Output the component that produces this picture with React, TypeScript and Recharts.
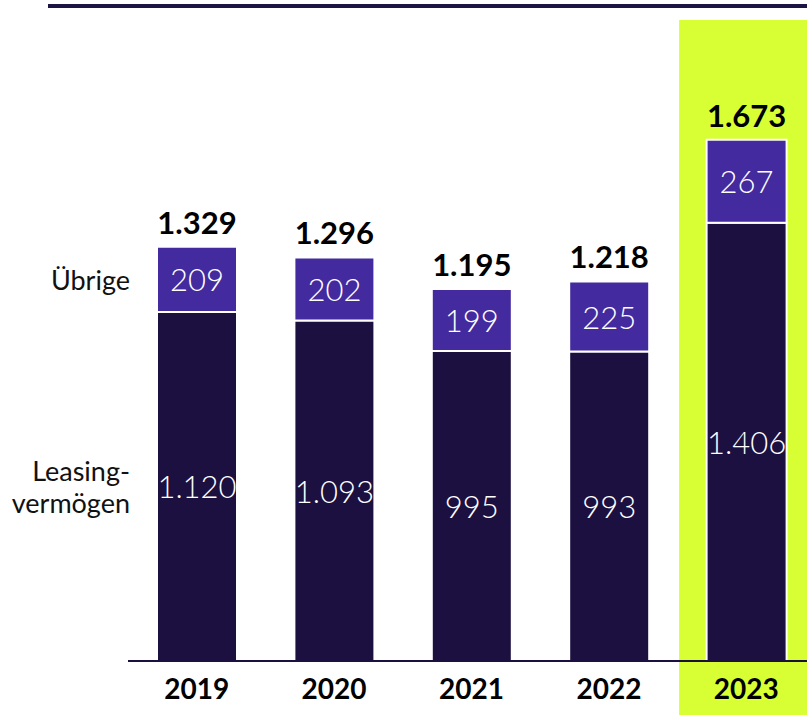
import React from 'react';
import { BarChart, Bar, XAxis, YAxis, ReferenceArea, LabelList } from 'recharts';

const years = ['2019', '2020', '2021', '2022', '2023'];
const leasing = [1120, 1093, 995, 993, 1406];
const other = [209, 202, 199, 225, 267];
const totals = [1329, 1296, 1195, 1218, 1673];

const data = years.map((year, i) => ({
  year,
  leasing: leasing[i],
  other: other[i],
  total: totals[i],
}));

const DARK = '#1b1040';
const PURPLE = '#432a9e';
const LIME = '#d8ff33';
const FONT = 'Lato, "Noto Sans", sans-serif';

const fmt = (v: number) => String(v).replace(/\B(?=(\d{3})+(?!\d))/g, '.');

const innerLabel = (sideLines: string[]) => (props: any) => {
  const { x, y, width, height, value, index } = props;
  const cx = x + width / 2;
  const cy = y + height / 2;
  return (
    <g>
      <text
        x={cx}
        y={cy}
        fill="#fff"
        fontSize={31}
        fontWeight={300}
        fontFamily={FONT}
        textAnchor="middle"
        dominantBaseline="central"
      >
        {fmt(value)}
      </text>
      {index === 0 && (
        <text
          x={x - 27}
          y={cy - ((sideLines.length - 1) * 32) / 2}
          fill="#111"
          fontSize={27}
          fontWeight={400}
          fontFamily={FONT}
          textAnchor="end"
          dominantBaseline="central"
        >
          {sideLines.map((l, k) => (
            <tspan key={k} x={x - 27} dy={k ? 32 : 0}>
              {l}
            </tspan>
          ))}
        </text>
      )}
    </g>
  );
};

const totalLabel = (props: any) => {
  const { x, y, width, index } = props;
  return (
    <text
      x={x + width / 2}
      y={y - 25}
      fill="#000"
      fontSize={31}
      fontWeight={700}
      fontFamily={FONT}
      textAnchor="middle"
      dominantBaseline="central"
    >
      {fmt(totals[index])}
    </text>
  );
};

const YearTick = ({ x, y, payload }: any) => (
  <text
    x={x}
    y={y + 27}
    fill="#000"
    fontSize={28}
    fontWeight={700}
    fontFamily={FONT}
    textAnchor="middle"
    dominantBaseline="central"
  >
    {payload.value}
  </text>
);

const Highlight = (props: any) => (
  <rect x={props.x + 1.5} y={props.y} width={props.width} height={props.height + 54} fill={LIME} />
);

export default function App() {
  return (
    <div style={{ position: 'absolute', left: 0, top: 0, width: 807, height: 715, overflow: 'hidden', background: '#fff' }}>
      <div style={{ position: 'absolute', left: 48, top: 4, width: 759, height: 4, background: '#1c1444' }} />
      <BarChart
        width={815}
        height={715}
        data={data}
        margin={{ top: 20, right: 0, left: 128, bottom: 0 }}
        barSize={80}
      >
        <ReferenceArea x1="2023" x2="2023" shape={<Highlight />} ifOverflow="visible" />
        <XAxis
          dataKey="year"
          height={54}
          tickLine={false}
          tickSize={0}
          tickMargin={0}
          axisLine={{ stroke: DARK, strokeWidth: 2 }}
          tick={<YearTick />}
          interval={0}
        />
        <YAxis hide domain={[0, 2057]} />
        <Bar dataKey="leasing" stackId="a" fill={DARK} stroke="#fff" strokeWidth={2} isAnimationActive={false}>
          <LabelList dataKey="leasing" content={innerLabel(['Leasing-', 'vermögen'])} />
        </Bar>
        <Bar dataKey="other" stackId="a" fill={PURPLE} stroke="#fff" strokeWidth={2} isAnimationActive={false}>
          <LabelList dataKey="other" content={innerLabel(['Übrige'])} />
          <LabelList dataKey="total" content={totalLabel} />
        </Bar>
      </BarChart>
    </div>
  );
}
